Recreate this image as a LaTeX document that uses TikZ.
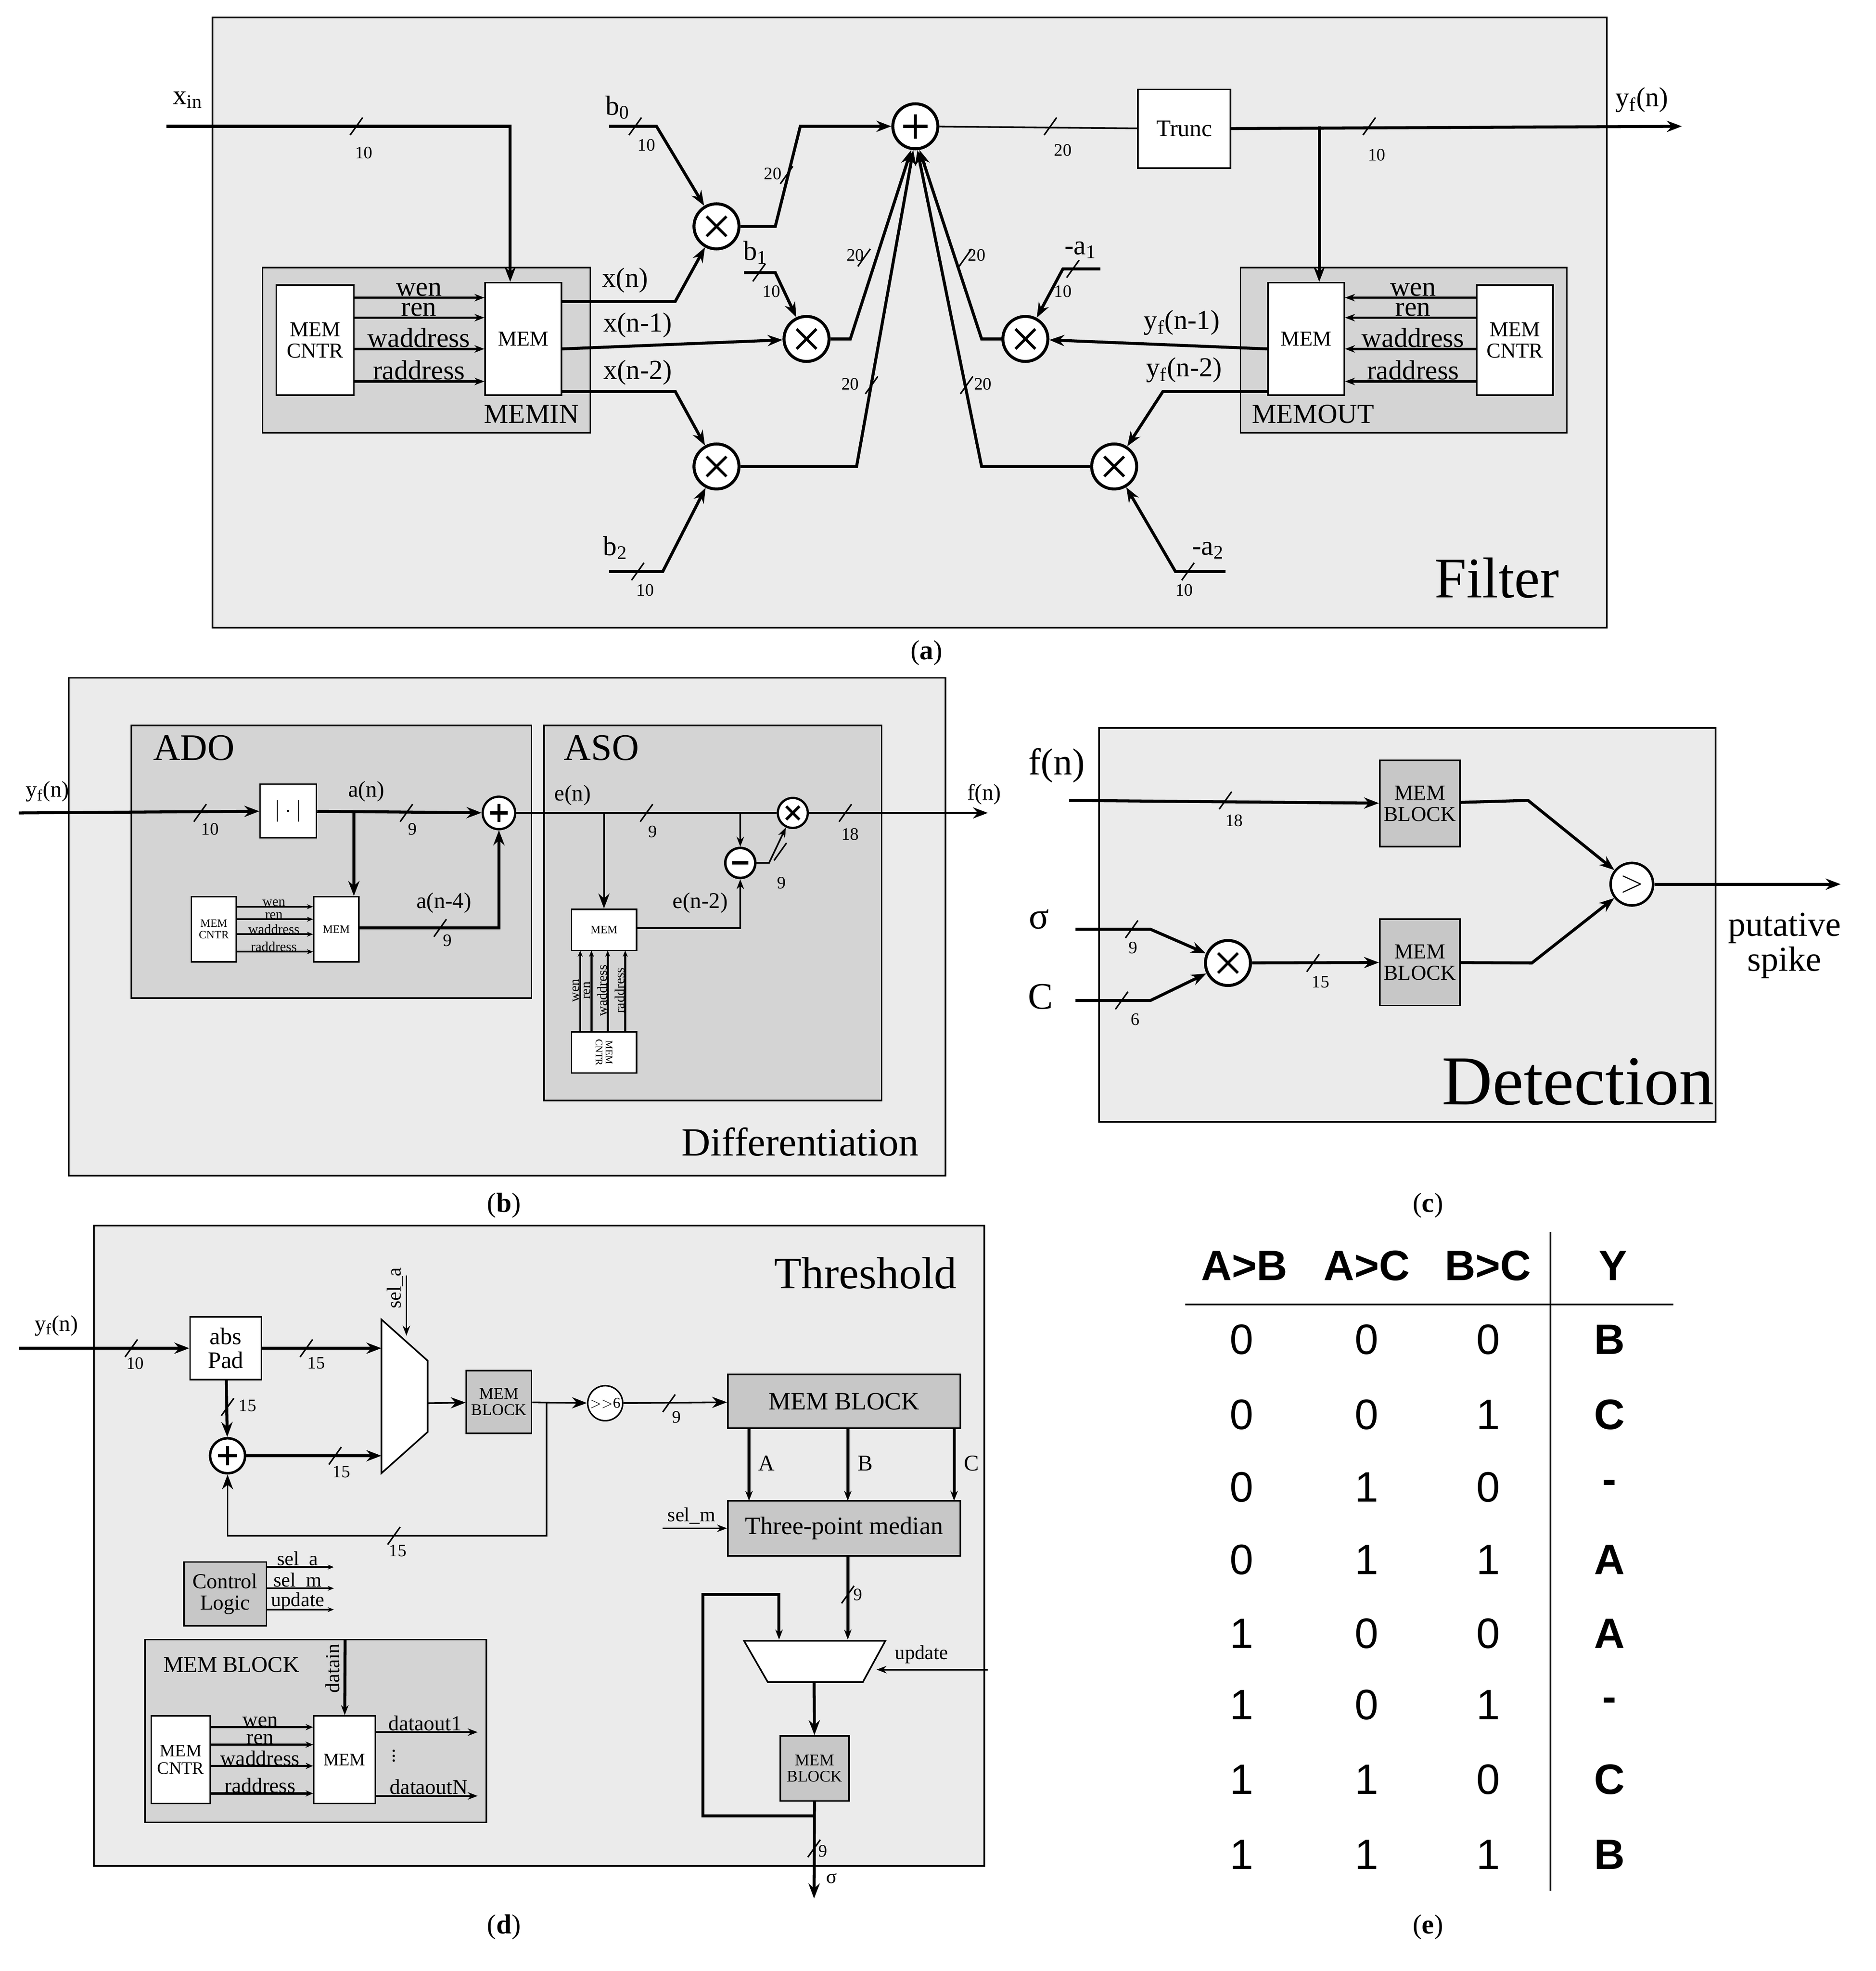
\documentclass[tikz,border=0pt]{standalone}
\usepackage{fontspec}
\setmainfont{Liberation Serif}
\newfontfamily\tabf{Liberation Sans}
\usetikzlibrary{arrows.meta,calc,shapes.geometric}
\newcommand\myfs[1]{\fontsize{#1}{#1}\selectfont}
\definecolor{pgray}{gray}{0.92}
\definecolor{dgray}{gray}{0.83}
\definecolor{bgray}{gray}{0.78}
\begin{document}
\begin{tikzpicture}[x=1pt,y=-1pt,
 bus/.style={line width=2.4pt},
 tn/.style={line width=1.3pt},
 ar/.style={-{Stealth[length=12pt,width=9pt]}},
 sar/.style={-{Stealth[length=8pt,width=6pt]}},
 box/.style={draw,line width=1.2pt,fill=white,align=center,inner sep=1pt},
 pan/.style={draw,line width=1.3pt,fill=pgray},
 sub/.style={draw,line width=1.2pt,fill=dgray},
 mult/.style={circle,draw,line width=2.4pt,fill=white,minimum size=#1,inner sep=0pt,
   path picture={\draw[line width=2.2pt] ($(path picture bounding box.center)+(-0.22*#1,-0.22*#1)$)--++(0.44*#1,0.44*#1) ($(path picture bounding box.center)+(-0.22*#1,0.22*#1)$)--++(0.44*#1,-0.44*#1);}},
 add/.style={circle,draw,line width=2.4pt,fill=white,minimum size=#1,inner sep=0pt,
   path picture={\draw[line width=2.6pt] ($(path picture bounding box.center)+(-0.27*#1,0)$)--++(0.54*#1,0) ($(path picture bounding box.center)+(0,-0.27*#1)$)--++(0,0.54*#1);}},
 sub1/.style={circle,draw,line width=2pt,fill=white,minimum size=#1,inner sep=0pt,
   path picture={\draw[line width=2.6pt] ($(path picture bounding box.center)+(-0.27*#1,0)$)--++(0.54*#1,0);}},
 sl/.pic={\draw[line width=1.2pt] (-5,7)--(5,-7);},
 lb/.style={font=\myfs{14}},
 tx/.style={font=\myfs{22}},
]
\useasboundingbox (0,0) rectangle (1500,1576);
%================ (a) ================
\path[pan] (170,14) rectangle (1285,502);
\node[font=\myfs{46}] (filt) at (1197,462) {Filter};
\node[font=\myfs{22}] (la) at (741,522) {(\textbf{a})};
\node[sub,minimum width=262pt,minimum height=132pt] (memin) at (341,280) {};
\node[box,minimum width=62pt,minimum height=88pt,font=\myfs{17}] (c1) at (252,272) {MEM\\CNTR};
\node[box,minimum width=61pt,minimum height=90pt,font=\myfs{17}] (m1b) at (418.5,271) {MEM};
\node[tx] at (425,331) {MEMIN};
\foreach \yy/\t in {238/wen,254/ren,279/waddress,305/raddress}{
  \draw[line width=2pt,sar] (c1.east|-0,\yy) -- (m1b.west|-0,\yy);
  \node[tx,above,inner sep=0pt] at (335,\yy-1) {\t};}
\node[sub,minimum width=261pt,minimum height=132pt] (memout) at (1122.5,280) {};
\node[box,minimum width=61pt,minimum height=90pt,font=\myfs{17}] (m2b) at (1044.5,271) {MEM};
\node[box,minimum width=61pt,minimum height=88pt,font=\myfs{17}] (c2) at (1211.5,272) {MEM\\CNTR};
\node[tx] at (1050,331) {MEMOUT};
\foreach \yy/\t in {238/wen,254/ren,279/waddress,305/raddress}{
  \draw[line width=2pt,sar] (c2.west|-0,\yy) -- (m2b.east|-0,\yy);
  \node[tx,above,inner sep=0pt] at (1130,\yy-1) {\t};}
\node[mult=36pt] (x0) at (573,181) {};
\node[mult=36pt] (x1) at (645,271) {};
\node[mult=36pt] (x2) at (573,373) {};
\node[mult=36pt] (x3) at (820,271) {};
\node[mult=36pt] (x4) at (891,373) {};
\node[add=36pt] (ad) at (732,101) {};
\node[box,minimum width=74pt,minimum height=63pt,font=\myfs{19}] (tr) at (947,103) {Trunc};
\coordinate (xin) at (133,101);
\draw[bus,ar] (xin) -- (408,101) -- (m1b.north-|408,0);
\node[tx] at (150,80) {x\textsubscript{in}};
\path (285,101) pic{sl}; \node[lb] at (291,122) {10};
\draw[bus,ar] (m1b.east|-0,241) -- (540,241) -- (x0);
\node[tx] at (500,224) {x(n)};
\draw[bus,ar] (m1b.east|-0,279) -- (x1);
\node[tx] at (510,260) {x(n-1)};
\draw[bus,ar] (m1b.east|-0,313) -- (540,313) -- (x2);
\node[tx] at (510,298) {x(n-2)};
\coordinate (b0) at (487,101);
\draw[bus,ar] (b0) -- (525,101) -- (x0);
\node[tx] at (494,86) {b\textsubscript{0}}; \path (508,101) pic{sl}; \node[lb] at (517,116) {10};
\coordinate (b1) at (595,218);
\draw[bus,ar] (b1) -- (620,218) -- (x1);
\node[tx] at (604,202) {b\textsubscript{1}}; \path (607,218) pic{sl}; \node[lb] at (617,233) {10};
\coordinate (b2) at (487,457);
\draw[bus,ar] (b2) -- (530,457) -- (x2);
\node[tx] at (492,438) {b\textsubscript{2}}; \path (510,457) pic{sl}; \node[lb] at (516,472) {10};
\coordinate (a1) at (880,215);
\draw[bus,ar] (a1) -- (850,215) -- (x3);
\node[tx] at (864,200) {-a\textsubscript{1}}; \path (858,215) pic{sl}; \node[lb] at (850,233) {10};
\coordinate (a2) at (980,457);
\draw[bus,ar] (a2) -- (940,457) -- (x4);
\node[tx] at (966,440) {-a\textsubscript{2}}; \path (950,457) pic{sl}; \node[lb] at (947,472) {10};
\draw[bus,ar] (x0) -- (620,181) -- (640,101) -- (ad);
\path (629,140) pic{sl}; \node[lb] at (618,139) {20};
\draw[bus,ar] (x1) -- (680,271) -- (ad.-100);
\path (691,206) pic{sl}; \node[lb] at (684,204) {20};
\draw[bus,ar] (x2) -- (685,373) -- (ad.-95);
\path (697,308) pic{sl}; \node[lb] at (680,307) {20};
\draw[bus,ar] (x3) -- (785,271) -- (ad.-80);
\path (772,206) pic{sl}; \node[lb] at (781,204) {20};
\draw[bus,ar] (x4) -- (785,373) -- (ad.-85);
\path (773,308) pic{sl}; \node[lb] at (786,307) {20};
\draw[tn] (ad) -- (tr);
\path (840,101) pic{sl}; \node[lb] at (850,120) {20};
\coordinate (yo) at (1345,101);
\draw[bus,ar] (tr) -- (yo);
\path (1095,101) pic{sl}; \node[lb] at (1101,124) {10};
\node[tx] at (1313,80) {y\textsubscript{f}(n)};
\draw[bus,ar] (1055,101) -- (m2b.north-|1055,0);
\draw[bus,ar] (m2b.west|-0,279) -- (x3);
\node[tx] at (945,258) {y\textsubscript{f}(n-1)};
\draw[bus,ar] (m2b.west|-0,313) -- (930,313) -- (x4);
\node[tx] at (947,296) {y\textsubscript{f}(n-2)};
%================ (b) ================
\path[pan] (55,542) rectangle (756,940);
\node[font=\myfs{32}] at (640,913) {Differentiation};
\node[font=\myfs{22}] at (403,964) {(\textbf{b})};
\path[sub] (105,580) rectangle (425,798);
\node[font=\myfs{30}] at (155,598) {ADO};
\path[sub] (435,580) rectangle (705,880);
\node[font=\myfs{30}] at (481,598) {ASO};
\node[box,minimum width=45pt,minimum height=43pt,font=\myfs{18}] (abs) at (230.5,648.5) {$|\cdot|$};
\node[add=26pt,line width=1.8pt] (ad2) at (399,650) {};
\coordinate (yb) at (15,650);
\draw[bus,ar] (yb) -- (abs);
\node[font=\myfs{18}] at (38,633) {y\textsubscript{f}(n)};
\path (160,650) pic{sl}; \node[lb] at (168,663) {10};
\draw[bus,ar] (abs) -- (ad2);
\node[font=\myfs{18}] at (293,633) {a(n)};
\path (325,650) pic{sl}; \node[lb] at (330,663) {9};
\node[box,minimum width=36pt,minimum height=52pt,font=\myfs{9}] (c3) at (171,743) {MEM\\CNTR};
\node[box,minimum width=36pt,minimum height=52pt,font=\myfs{9}] (m3b) at (269,743) {MEM};
\foreach \yy/\t in {725/wen,735/ren,747/waddress,761/raddress}{
  \draw[line width=1.4pt,-{Stealth[length=5pt,width=4pt]}] (c3.east|-0,\yy) -- (m3b.west|-0,\yy);
  \node[font=\myfs{11},above,inner sep=0pt] at (219,\yy) {\t};}
\draw[bus,ar] (283,650) -- (m3b.north-|283,0);
\draw[bus,ar] (m3b.east|-0,742) -- (399,742) -- (ad2);
\node[font=\myfs{18}] at (355,722) {a(n-4)};
\path (352,742) pic{sl}; \node[lb] at (358,752) {9};
\node[mult=24pt,line width=1.8pt] (x5) at (634,650) {};
\node[sub1=24pt] (mn) at (592,690) {};
\coordinate (fo) at (790,650);
\draw[tn] (ad2) -- (x5);
\draw[tn,ar] (x5) -- (fo);
\node[font=\myfs{18}] at (787,635) {f(n)};
\node[font=\myfs{18}] at (458,636) {e(n)};
\path (517,650) pic{sl}; \node[lb] at (522,665) {9};
\path (676,650) pic{sl}; \node[lb] at (680,667) {18};
\node[box,minimum width=52pt,minimum height=33pt,font=\myfs{9}] (m4b) at (483,743.5) {MEM};
\node[box,minimum width=52pt,minimum height=33pt] (c4) at (483,841.5) {};
\node[font=\myfs{8},rotate=-90,align=center] at (c4) {MEM\\CNTR};
\draw[tn,ar] (483,650) -- (m4b);
\draw[tn,sar] (592,650) -- (mn);
\draw[tn,sar] (m4b.east|-0,742) -- (592,742) -- (mn);
\node[font=\myfs{18}] at (560,722) {e(n-2)};
\draw[tn,sar] (mn) -- (615,690) -- (x5);
\path (624,681) pic{sl}; \node[lb] at (625,706) {9};
\foreach \xx/\t in {464/wen,473/ren,486/waddress,500/raddress}{
  \draw[line width=1.6pt,-{Stealth[length=5pt,width=4pt]}] (\xx,825) -- (\xx,760);
  \node[font=\myfs{11},rotate=90,above,inner sep=0.5pt] at (\xx,792) {\t};}
%================ (c) ================
\path[pan] (879,582) rectangle (1372,897);
\node[font=\myfs{56}] at (1262,865) {Detection};
\node[font=\myfs{22}] at (1142,964) {(\textbf{c})};
\node[draw,line width=1.2pt,fill=bgray,minimum width=61pt,minimum height=69pt,align=center,font=\myfs{17}] (mb1) at (1135.5,642.5) {MEM\\BLOCK};
\node[draw,line width=1.2pt,fill=bgray,minimum width=61pt,minimum height=69pt,align=center,font=\myfs{17}] (mb2) at (1135.5,769.5) {MEM\\BLOCK};
\node[circle,draw,line width=2pt,fill=white,minimum size=34pt,inner sep=0pt,font=\myfs{26}] (cmp) at (1305,707) {$>$};
\node[mult=36pt] (x6) at (982,770) {};
\coordinate (fin) at (855,640);
\draw[bus,ar] (fin) -- (mb1);
\node[font=\myfs{30}] at (845,612) {f(n)};
\path (980,640) pic{sl}; \node[lb] at (987,656) {18};
\draw[bus,ar] (mb1) -- (1222,640) -- (cmp);
\coordinate (sg) at (860,743);
\draw[bus,ar] (sg) -- (920,743) -- (x6);
\node[font=\myfs{30}] at (831,735) {σ};
\path (905,743) pic{sl}; \node[lb] at (906,758) {9};
\coordinate (cc) at (860,800);
\draw[bus,ar] (cc) -- (920,800) -- (x6);
\node[font=\myfs{30}] at (832,797) {C};
\path (897,800) pic{sl}; \node[lb] at (908,815) {6};
\draw[bus,ar] (x6) -- (mb2);
\path (1050,770) pic{sl}; \node[lb] at (1056,785) {15};
\draw[bus,ar] (mb2) -- (1225,770) -- (cmp);
\coordinate (ps) at (1472,707);
\draw[bus,ar] (cmp) -- (ps);
\node[font=\myfs{28},align=center] at (1427,756) {putative\\spike};
%================ (d) ================
\path[pan] (75,980) rectangle (787,1492);
\node[font=\myfs{36}] at (692,1018) {Threshold};
\node[font=\myfs{22}] at (403,1541) {(\textbf{d})};
\node[box,minimum width=57pt,minimum height=50pt,font=\myfs{19}] (ap) at (180.5,1078) {abs\\Pad};
\node[add=28pt,line width=2pt] (ad3) at (182,1164) {};
\path[draw,line width=1.3pt,fill=white] (305,1055) -- (342,1088) -- (342,1145) -- (305,1178) -- cycle;
\node[draw,line width=1.2pt,fill=bgray,minimum width=52pt,minimum height=50pt,align=center,font=\myfs{13}] (mb3) at (399,1121) {MEM\\BLOCK};
\node[circle,draw,line width=1.2pt,fill=white,minimum size=28pt,inner sep=0pt,font=\myfs{12}] (sh) at (484,1122) {$>>$6};
\coordinate (yd) at (15,1078);
\draw[bus,ar] (yd) -- (ap);
\node[font=\myfs{18}] at (45,1060) {y\textsubscript{f}(n)};
\path (105,1078) pic{sl}; \node[lb] at (108,1090) {10};
\draw[bus,ar] (ap) -- (305,1078);
\path (245,1078) pic{sl}; \node[lb] at (253,1090) {15};
\draw[bus,ar] (ap) -- (ad3);
\path (182,1125) pic{sl}; \node[lb] at (198,1124) {15};
\draw[bus,ar] (ad3) -- (305,1164);
\path (268,1164) pic{sl}; \node[lb] at (273,1177) {15};
\draw[tn,sar] (325,1020) -- (325,1068);
\node[font=\myfs{16},rotate=90] at (316,1030) {sel\_a};
\draw[tn,ar] (342,1122) -- (mb3);
\draw[tn,ar] (mb3) -- (sh);
\draw[tn,ar] (437,1122) -- (437,1228) -- (182,1228) -- (ad3);
\path (315,1228) pic{sl}; \node[lb] at (318,1240) {15};
\node[draw,line width=1.2pt,fill=bgray,minimum width=186pt,minimum height=43pt,font=\myfs{20}] (mbb) at (675,1120.5) {MEM BLOCK};
\node[draw,line width=1.2pt,fill=bgray,minimum width=186pt,minimum height=44pt,font=\myfs{20}] (tpm) at (675,1222) {Three-point median};
\draw[tn,ar] (sh) -- (mbb);
\path (535,1122) pic{sl}; \node[lb] at (541,1133) {9};
\foreach \xx/\t in {599/A,678/B,763/C}{
  \draw[bus,sar] (\xx,1142) -- (\xx,1200);
  \node[font=\myfs{18}] at (\xx+14,1170) {\t};}
\coordinate (sm) at (530,1222);
\draw[tn,sar] (sm) -- (tpm);
\node[font=\myfs{16}] at (553,1212) {sel\_m};
\path[draw,line width=1.3pt,fill=white] (595,1312) -- (708,1312) -- (690,1345) -- (614,1345) -- cycle;
\draw[bus,sar] (678,1244) -- (678,1311);
\path (678,1275) pic{sl}; \node[lb] at (686,1275) {9};
\coordinate (up) at (790,1335);
\draw[tn,sar] (up) -- (701,1335);
\node[font=\myfs{16}] at (737,1323) {update};
\node[draw,line width=1.2pt,fill=bgray,minimum width=55pt,minimum height=52pt,align=center,font=\myfs{13}] (mb4) at (651.5,1414) {MEM\\BLOCK};
\draw[bus,ar] (651,1345) -- (mb4);
\coordinate (sgo) at (651,1518);
\draw[bus,ar] (mb4) -- (sgo);
\draw[bus,sar] (651,1452) -- (562,1452) -- (562,1275) -- (623,1275) -- (623,1311);
\path (651,1478) pic{sl}; \node[lb] at (658,1480) {9};
\node[font=\myfs{16}] at (665,1502) {σ};
\node[draw,line width=1.2pt,fill=bgray,minimum width=66pt,minimum height=51pt,align=center,font=\myfs{17}] (cl) at (180,1274.5) {Control\\Logic};
\foreach \yy/\t in {1253/sel\_a,1270/sel\_m,1287/update}{
  \draw[tn,-{Stealth[length=5pt,width=4pt]}] (cl.east|-0,\yy) -- (267,\yy);
  \node[font=\myfs{16},above,inner sep=0pt] at (238,\yy+1) {\t};}
\path[sub] (116,1311) rectangle (389,1457);
\node[font=\myfs{18}] at (185,1331) {MEM BLOCK};
\node[box,minimum width=47pt,minimum height=70pt,font=\myfs{14}] (c5) at (144.5,1407) {MEM\\CNTR};
\node[box,minimum width=49pt,minimum height=70pt,font=\myfs{14}] (m5b) at (275.5,1407) {MEM};
\foreach \yy/\t in {1381/wen,1395/ren,1412/waddress,1434/raddress}{
  \draw[line width=1.8pt,-{Stealth[length=6pt,width=5pt]}] (c5.east|-0,\yy) -- (m5b.west|-0,\yy);
  \node[font=\myfs{17},above,inner sep=0pt] at (208,\yy) {\t};}
\draw[bus,sar] (276,1311) -- (m5b);
\node[font=\myfs{16},rotate=90] at (266,1334) {datain};
\coordinate (do1) at (382,1385); \coordinate (doN) at (382,1436);
\draw[tn,sar] (m5b.east|-0,1385) -- (do1);
\draw[tn,sar] (m5b.east|-0,1436) -- (doN);
\node[font=\myfs{17},above,inner sep=0pt] at (340,1384) {dataout1};
\node[font=\myfs{17},above,inner sep=0pt] at (343,1435) {dataoutN};
\node[font=\myfs{16},inner sep=0pt] at (315,1401) {$\vdots$};
%================ (e) ================
\node[font=\myfs{22}] at (1142,1541) {(\textbf{e})};
\draw[line width=1.3pt] (948,1043) -- (1338,1043);
\draw[line width=1.3pt] (1240,985) -- (1240,1512);
\foreach \xx/\t in {995/A>B,1093/A>C,1190/B>C,1290/Y}
  \node[font=\tabf\bfseries\myfs{34}] at (\xx,1012) {\t};
\foreach \yy/\a/\b/\c/\y in {1071/0/0/0/B,1131/0/0/1/C,1189/0/1/0/-,1247/0/1/1/A,1306/1/0/0/A,1363/1/0/1/-,1423/1/1/0/C,1483/1/1/1/B}{
  \node[font=\tabf\myfs{34}] at (993,\yy) {\a};
  \node[font=\tabf\myfs{34}] at (1093,\yy) {\b};
  \node[font=\tabf\myfs{34}] at (1190,\yy) {\c};
  \node[font=\tabf\bfseries\myfs{34}] at (1287,\yy) {\y};}
\end{tikzpicture}
\end{document}
